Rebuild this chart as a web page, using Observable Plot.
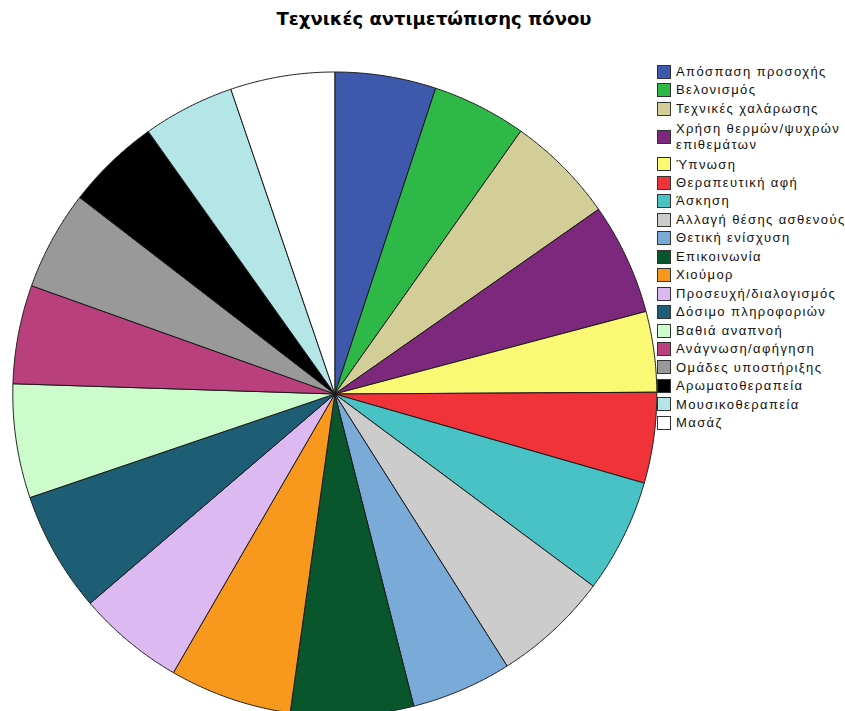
<!DOCTYPE html>
<html>
<head>
<meta charset="utf-8">
<script src="https://cdn.jsdelivr.net/npm/d3@7"></script>
<script src="https://cdn.jsdelivr.net/npm/@observablehq/plot@0.6"></script>
<style>
  html, body { margin: 0; padding: 0; background: #fff; overflow: hidden; }
  #wrap { position: relative; width: 845px; height: 711px; }
  #title { position: absolute; left: 0; top: 8px; width: 868px; text-align: center;
    font-family: "DejaVu Sans", Verdana, sans-serif; font-weight: bold; font-size: 18px; color: #000; }
  #chart { position: absolute; left: 0; top: 0; }
  #legend { position: absolute; left: 657px; top: 62.5px; width: 200px;
    font-family: "Liberation Sans", Arial, sans-serif; font-size: 13px; color: #111; letter-spacing: 1.4px; }
  .item { display: flex; align-items: center; padding: 1.45px 0; line-height: 15.6px; }
  .sw { width: 12px; height: 12px; border: 1px solid #333; flex: none; margin-right: 5px; box-sizing: content-box; }
  .lab { width: 176px; }
</style>
</head>
<body>
<div id="wrap">
  <div id="chart"></div>
  <div id="title"></div>
  <div id="legend"></div>
</div>
<script>
const titleText = "Τεχνικές αντιμετώπισης πόνου";
const categories = [
  "Απόσπαση προσοχής",
  "Βελονισμός",
  "Τεχνικές χαλάρωσης",
  "Χρήση θερμών/ψυχρών επιθεμάτων",
  "Ύπνωση",
  "Θεραπευτική αφή",
  "Άσκηση",
  "Αλλαγή θέσης ασθενούς",
  "Θετική ενίσχυση",
  "Επικοινωνία",
  "Χιούμορ",
  "Προσευχή/διαλογισμός",
  "Δόσιμο πληροφοριών",
  "Βαθιά αναπνοή",
  "Ανάγνωση/αφήγηση",
  "Ομάδες υποστήριξης",
  "Αρωματοθεραπεία",
  "Μουσικοθεραπεία",
  "Μασάζ"
];
// estimated shares (percent)
const values = [5.07, 4.73, 5.48, 5.59, 4.04, 4.55, 5.71, 5.84, 5.04, 6.16, 6.14, 5.38, 6.05, 5.72, 4.95, 4.99, 4.72, 4.60, 5.23];
const colors = [
  "#3E58AC", "#2EB848", "#D3CE97", "#7C287D", "#FBF873", "#EF3338", "#48C2C5", "#CCCCCC",
  "#7AAAD8", "#0A562C", "#F8981D", "#DDB9F1", "#1D5E75", "#CCFCCC", "#B9407D", "#999999",
  "#000000", "#B4E6E8", "#FFFFFF"
];

document.getElementById("title").textContent = titleText;

// Build wedge outlines in unit coordinates (angle 0 at top, clockwise)
const arcs = d3.pie().sort(null).value(d => d)(values);
const pts = [];
arcs.forEach((a, i) => {
  const cat = categories[i];
  pts.push({cat, x: 0, y: 0});
  const n = Math.max(2, Math.ceil((a.endAngle - a.startAngle) / 0.005));
  for (let k = 0; k <= n; k++) {
    const t = a.startAngle + (a.endAngle - a.startAngle) * k / n;
    pts.push({cat, x: Math.sin(t), y: Math.cos(t)});
  }
  pts.push({cat, x: 0, y: 0});
});

const chart = Plot.plot({
  width: 845,
  height: 720,
  marginLeft: 12.3,
  marginRight: 188.7,
  marginTop: 71.5,
  marginBottom: 4.5,
  x: {domain: [-1, 1], axis: null},
  y: {domain: [-1, 1], axis: null},
  color: {domain: categories, range: colors},
  style: {overflow: "visible", background: "transparent"},
  marks: [
    Plot.line(pts, {x: "x", y: "y", z: "cat", fill: "cat", stroke: "#1a1a1a", strokeWidth: 1, strokeLinejoin: "round"})
  ]
});
document.getElementById("chart").appendChild(chart);

const legend = document.getElementById("legend");
categories.forEach((c, i) => {
  const it = document.createElement("div");
  it.className = "item";
  const sw = document.createElement("div");
  sw.className = "sw";
  sw.style.background = colors[i];
  const lab = document.createElement("div");
  lab.className = "lab";
  lab.textContent = c;
  it.appendChild(sw);
  it.appendChild(lab);
  legend.appendChild(it);
  if (lab.offsetHeight > 20) { it.style.padding = "3px 0"; }
});
</script>
</body>
</html>
